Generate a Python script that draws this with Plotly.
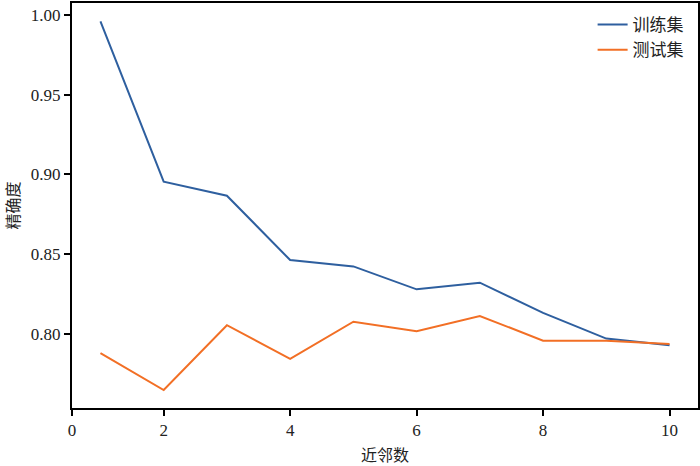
import plotly.graph_objects as go

# neighbour counts and accuracies
neighbors = [1, 2, 3, 4, 5, 6, 7, 8, 9, 10]
train_acc = [0.996, 0.8954, 0.8866, 0.8462, 0.8422, 0.8278, 0.8320, 0.8130, 0.7969, 0.7927]
test_acc = [0.7878, 0.7646, 0.8053, 0.7841, 0.8075, 0.8015, 0.8111, 0.7956, 0.7956, 0.7935]

x_ticks = [0.55, 2, 4, 6, 8, 10]
x_labels = ["0", "2", "4", "6", "8", "10"]
y_ticks = [0.80, 0.85, 0.90, 0.95, 1.00]

SERIF = "Liberation Serif, DejaVu Serif, serif"
CJK = "Noto Sans CJK SC"

fig = go.Figure()
fig.add_trace(go.Scatter(x=neighbors, y=train_acc, mode="lines", name="训练集",
                         line=dict(color="#2e5f9f", width=2)))
fig.add_trace(go.Scatter(x=neighbors, y=test_acc, mode="lines", name="测试集",
                         line=dict(color="#f26f25", width=2)))

axis_style = dict(showline=True, linecolor="black", linewidth=2, mirror=True,
                  ticks="outside", ticklen=6, tickwidth=2, tickcolor="black",
                  showgrid=False, zeroline=False, automargin=False)

fig.update_layout(
    width=700, height=466,
    margin=dict(l=72, r=2, t=3, b=58),
    plot_bgcolor="white", paper_bgcolor="white",
    font=dict(family=SERIF, size=17, color="#222"),
    xaxis=dict(range=[0.55, 10.45], tickvals=x_ticks, ticktext=x_labels,
               tickfont=dict(family=SERIF, size=17),
               title=dict(text="近邻数", font=dict(family=CJK, size=16), standoff=19),
               **axis_style),
    yaxis=dict(range=[0.7533, 1.0076], tickvals=y_ticks, tickformat=".2f",
               tickfont=dict(family=SERIF, size=17),
               title=dict(text="精确度", font=dict(family=CJK, size=16), standoff=18),
               **axis_style),
    legend=dict(x=0.985, y=0.99, xanchor="right", yanchor="top", itemwidth=30,
                bgcolor="rgba(0,0,0,0)", tracegroupgap=0,
                font=dict(family=CJK, size=17)),
)

# the page body has a default 8px margin that would shift the figure
fig.write_html("out.html", config={"displayModeBar": False},
               post_script="document.body.style.margin='0';")
